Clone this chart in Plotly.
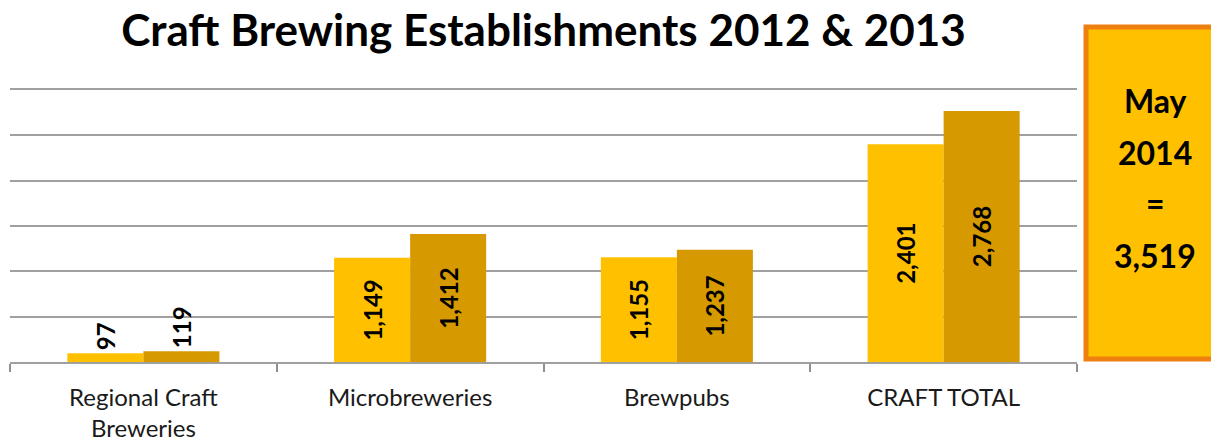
import plotly.graph_objects as go

categories = ["Regional Craft<br>Breweries", "Microbreweries", "Brewpubs", "CRAFT TOTAL"]
values_2012 = [97, 1149, 1155, 2401]
values_2013 = [119, 1412, 1237, 2768]
callout_lines = ["May", "2014", "=", "3,519"]
title_text = "Craft Brewing Establishments 2012 & 2013"

FONT = "Lato"
c2012 = "#FFC000"
c2013 = "#D69A00"
OFF = 8  # default page body margin

def fmt(v):
    return f"{v:,}"

def positions(vals):
    return ["outside" if v < 500 else "inside" for v in vals]

fig = go.Figure()
for name, vals, col in [("2012", values_2012, c2012), ("2013", values_2013, c2013)]:
    fig.add_trace(go.Bar(
        x=categories, y=vals, name=name,
        marker=dict(color=col, line=dict(width=0)),
        text=[fmt(v) for v in vals],
        textposition=positions(vals),
        textangle=-90,
        insidetextanchor="middle",
        constraintext="none",
        textfont=dict(family=FONT, size=24, color="black", weight="bold"),
        cliponaxis=False,
    ))

W, H = 1219 - OFF, 439 - OFF
fig.update_layout(
    width=W, height=H,
    margin=dict(l=10 - OFF, r=1219 - 1077, t=90 - OFF, b=439 - 362),
    paper_bgcolor="white", plot_bgcolor="white",
    barmode="group", bargap=0.43, bargroupgap=0,
    showlegend=False,
    title=dict(text=f"<b>{title_text}</b>", x=(543.5 - OFF) / W, xanchor="center",
               y=1 - (31 - OFF) / H, yanchor="middle", automargin=False,
               font=dict(family=FONT, size=44, color="black")),
    font=dict(family=FONT),
)
fig.update_yaxes(range=[0, 3000], dtick=500, showticklabels=False,
                 showgrid=True, gridcolor="#A0A0A0", gridwidth=1.5,
                 zeroline=False, showline=False, ticks="", automargin=False)
fig.update_xaxes(showline=True, mirror=True, linecolor="#A0A0A0", linewidth=1.5,
                 ticks="outside", tickson="boundaries", ticklen=8, tickcolor="#909090",
                 tickwidth=1.5, ticklabelstandoff=13, automargin=False,
                 tickfont=dict(family=FONT, size=24, color="#1a1a1a"))

# callout box
x0 = (1086 - 10) / 1067
x1 = (1260 - 10) / 1067
y0 = (362 - 359) / 272
y1 = (362 - 27) / 272
fig.add_shape(type="rect", xref="paper", yref="paper", x0=x0, x1=x1, y0=y0, y1=y1,
              fillcolor=c2012, line=dict(color="#EE8010", width=5))
line_y = [100, 152, 203, 255]
for txt, py in zip(callout_lines, line_y):
    fig.add_annotation(xref="paper", yref="paper", x=(1155 - 10) / 1067, y=(362 - py) / 272,
                       text=f"<b>{txt}</b>", showarrow=False, xanchor="center", yanchor="middle",
                       font=dict(family=FONT, size=32, color="black"))

fig.write_html("out.html")
